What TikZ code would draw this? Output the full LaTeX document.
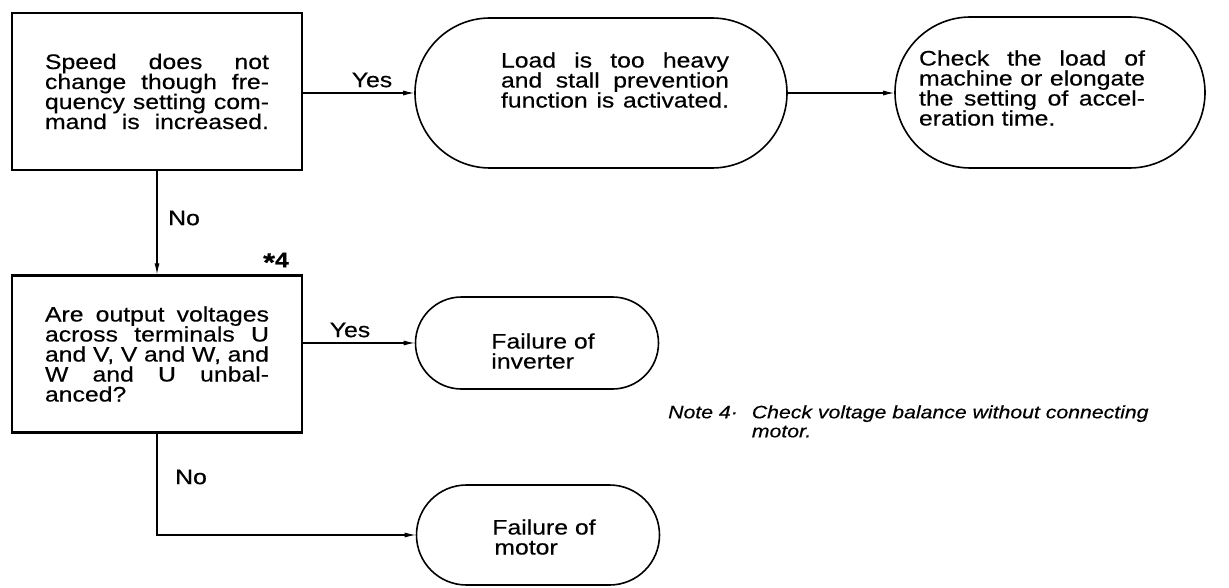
\documentclass[tikz,border=0pt]{standalone}
\usepackage{fontspec}
\setmainfont{Liberation Sans}[FakeStretch=1.18,FakeBold=0.4]
\usetikzlibrary{shapes.misc,arrows.meta}
% one justified line of a fixed-width text block
\newcommand\jline[1]{\makebox[\hsize][s]{\spaceskip=0pt\xspaceskip=0pt #1}}

\begin{document}
\begin{tikzpicture}[x=1pt,y=-1pt,
  every node/.style={font=\fontsize{21}{20}\selectfont},
  decision/.style={draw, line width=2.2pt, rectangle, minimum width=290pt,
    minimum height=157pt, inner sep=0pt, text width=224pt, align=justify},
  terminal/.style={draw, line width=1.6pt, rounded rectangle, inner sep=0pt},
  blocktext/.style={inner sep=0pt, align=justify},
  label/.style={inner sep=0pt},
  flow/.style={line width=1.1pt, -{Latex[length=11pt,width=5pt]}}]

\useasboundingbox (0,0) rectangle (1229,588);

% decision boxes
\node[decision] (speed) at (157,91.5) {%
  \jline{Speed does not}\\
  \jline{change though fre-}\\
  \jline{quency setting com-}\\
  \jline{mand is increased.}};

\node[decision] (volt) at (157,354) {%
  \jline{Are output voltages}\\
  \jline{across terminals U}\\
  \jline{and V, V and W, and}\\
  \jline{W and U unbal-}\\
  anced?};

% terminal boxes
\node[terminal, minimum width=372pt, minimum height=150pt] (load) at (601,93) {};
\node[blocktext, text width=228pt] (loadtext) at (615,80) {%
  \jline{Load is too heavy}\\
  \jline{and stall prevention}\\
  \jline{function is activated.}};

\node[terminal, minimum width=310pt, minimum height=151pt] (check) at (1050,92.5) {};
\node[blocktext, text width=226pt] (checktext) at (1032,88) {%
  \jline{Check the load of}\\
  \jline{machine or elongate}\\
  \jline{the setting of accel-}\\
  eration time.};

\node[terminal, minimum width=243pt, minimum height=92pt] (inv) at (537,343) {};
\node[blocktext, align=left] (invtext) at (543,351) {Failure of\\inverter};

\node[terminal, minimum width=243pt, minimum height=100pt] (motor) at (538,535) {};
\node[blocktext, align=left] (motortext) at (544,537) {Failure of\\\hspace*{2pt}motor};

% connectors
\draw[flow] (speed.east |- load.west) -- (load.west);
\draw[flow] (load.east) -- (load.east -| check.west);
\draw[flow] (speed.south) -- (volt.north);
\draw[flow] (volt.east |- inv.west) -- (inv.west);
\draw[flow] (volt.south) |- (motor.west);

% connector labels
\node[label] (yes1) at (372,80) {Yes};
\node[label, anchor=west] (no1) at (168,218) {No};
\node[label] (yes2) at (350,330) {Yes};
\node[label, anchor=west] (no2) at (175,477) {No};
\node[label] (star4) at (276,262) {\textbf{\raisebox{-4pt}{\fontsize{26}{20}\selectfont *}4}};

% footnote
\node[label, anchor=west, font=\fontsize{18}{19}\selectfont\itshape] (note) at (668,424) {%
  \begin{tabular}{@{}l@{\hspace{14pt}}l@{}}
  Note 4· & Check voltage balance without connecting\\
          & motor.
  \end{tabular}};
\end{tikzpicture}
\end{document}
